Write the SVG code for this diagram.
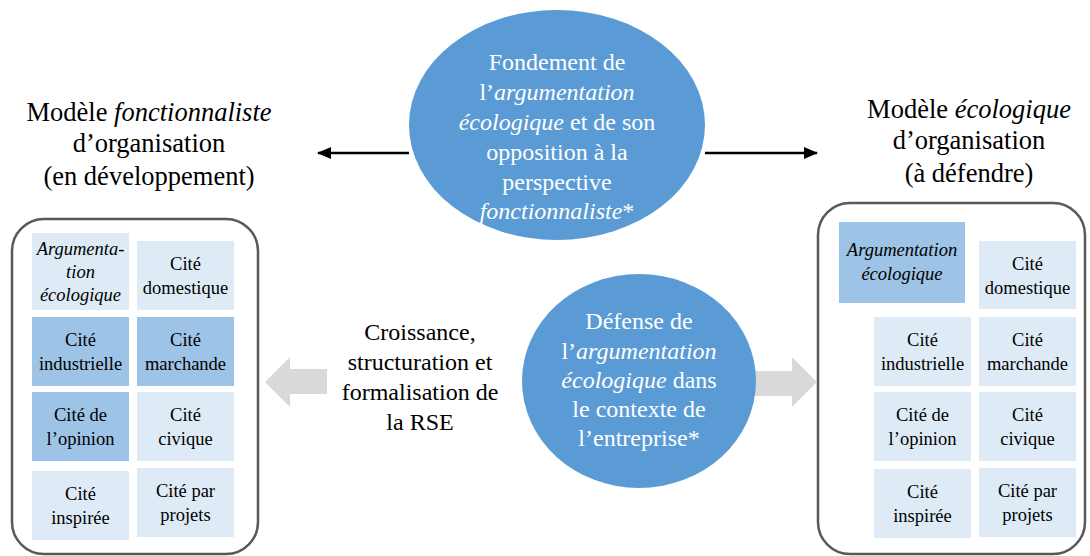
<svg xmlns="http://www.w3.org/2000/svg" width="1090" height="556" viewBox="0 0 1090 556" font-family="'Liberation Serif', 'DejaVu Serif', serif">
<defs>
<style>
text{font-family:'Liberation Serif','DejaVu Serif',serif;text-anchor:middle}
.h{font-size:26.5px;fill:#000}
.m{font-size:24px;fill:#000}
.e{font-size:24px;fill:#fff}
.c{font-size:18.5px;fill:#000}
.i{font-style:italic}
.lt{fill:#DEEBF7}
.dk{fill:#9DC3E6}
.box{fill:none;stroke:#595959;stroke-width:2.5}
.ell{fill:#5B9BD5}
.ga{fill:#D9D9D9}
</style>
<marker id="ah" markerWidth="14" markerHeight="12" refX="13" refY="6" orient="auto" markerUnits="userSpaceOnUse" viewBox="0 0 14 12">
<path d="M0,0 L14,6 L0,12 Z" fill="#000"/>
</marker>
</defs>
<rect width="1090" height="556" fill="#fff"/>

<g id="connectors">
<line x1="409" y1="153" x2="318" y2="153" stroke="#000" stroke-width="2.5" marker-end="url(#ah)"/>
<line x1="705" y1="153" x2="817" y2="153" stroke="#000" stroke-width="2.5" marker-end="url(#ah)"/>
<polygon class="ga" points="327,369 290,369 290,357 265,382 290,407 290,394 327,394"/>
<polygon class="ga" points="740,371 792,371 792,357 817,382 792,407 792,396 740,396"/>
</g>

<g id="header-left">
<text class="h" x="149" y="121">Modèle <tspan class="i">fonctionnaliste</tspan></text>
<text class="h" x="149" y="152">d’organisation</text>
<text class="h" x="149" y="185">(en développement)</text>
</g>
<g id="header-right">
<text class="h" x="969" y="118">Modèle <tspan class="i">écologique</tspan></text>
<text class="h" x="969" y="149">d’organisation</text>
<text class="h" x="969" y="182">(à défendre)</text>
</g>

<g id="ellipse-top">
<ellipse class="ell" cx="557" cy="125" rx="148" ry="115"/>
<text class="e" x="557" y="70">Fondement de</text>
<text class="e" x="557" y="100">l’<tspan class="i">argumentation</tspan></text>
<text class="e" x="557" y="130"><tspan class="i">écologique</tspan> et de son</text>
<text class="e" x="557" y="160">opposition à la</text>
<text class="e" x="557" y="190">perspective</text>
<text class="e" x="557" y="219"><tspan class="i">fonctionnaliste</tspan>*</text>
</g>

<g id="middle-text">
<text class="m" x="420" y="340">Croissance,</text>
<text class="m" x="420" y="370">structuration et</text>
<text class="m" x="420" y="400">formalisation de</text>
<text class="m" x="420" y="430">la RSE</text>
</g>

<g id="circle-bottom">
<ellipse class="ell" cx="639" cy="381" rx="117" ry="107"/>
<text class="e" x="639" y="329">Défense de</text>
<text class="e" x="639" y="359">l’<tspan class="i">argumentation</tspan></text>
<text class="e" x="639" y="388"><tspan class="i">écologique</tspan> dans</text>
<text class="e" x="639" y="417">le contexte de</text>
<text class="e" x="639" y="446">l’entreprise*</text>
</g>

<g id="box-left">
<rect class="box" x="12" y="219" width="246" height="335" rx="32"/>
<g id="l-arg"><rect class="lt" x="32" y="233" width="97" height="77"/>
<text class="c i" x="80.5" y="255">Argumenta-</text><text class="c i" x="80.5" y="278">tion</text><text class="c i" x="80.5" y="301">écologique</text></g>
<g id="l-dom"><rect class="lt" x="137" y="241" width="97" height="69"/>
<text class="c" x="185.5" y="270">Cité</text><text class="c" x="185.5" y="294">domestique</text></g>
<g id="l-ind"><rect class="dk" x="32" y="317" width="97" height="69"/>
<text class="c" x="80.5" y="346">Cité</text><text class="c" x="80.5" y="370">industrielle</text></g>
<g id="l-mar"><rect class="dk" x="137" y="317" width="97" height="69"/>
<text class="c" x="185.5" y="346">Cité</text><text class="c" x="185.5" y="370">marchande</text></g>
<g id="l-opi"><rect class="dk" x="32" y="392" width="97" height="69"/>
<text class="c" x="80.5" y="421">Cité de</text><text class="c" x="80.5" y="445">l’opinion</text></g>
<g id="l-civ"><rect class="lt" x="137" y="392" width="97" height="69"/>
<text class="c" x="185.5" y="421">Cité</text><text class="c" x="185.5" y="445">civique</text></g>
<g id="l-ins"><rect class="lt" x="32" y="471" width="97" height="69"/>
<text class="c" x="80.5" y="500">Cité</text><text class="c" x="80.5" y="524">inspirée</text></g>
<g id="l-pro"><rect class="lt" x="137" y="468" width="97" height="69"/>
<text class="c" x="185.5" y="497">Cité par</text><text class="c" x="185.5" y="521">projets</text></g>
</g>

<g id="box-right">
<rect class="box" x="818" y="203" width="267" height="351" rx="32"/>
<g id="r-arg"><rect class="dk" x="839" y="222" width="126" height="81"/>
<text class="c i" x="902" y="256">Argumentation</text><text class="c i" x="902" y="280">écologique</text></g>
<g id="r-dom"><rect class="lt" x="979" y="241" width="97" height="68"/>
<text class="c" x="1027.5" y="270">Cité</text><text class="c" x="1027.5" y="294">domestique</text></g>
<g id="r-ind"><rect class="lt" x="874" y="317" width="97" height="69"/>
<text class="c" x="922.5" y="346">Cité</text><text class="c" x="922.5" y="370">industrielle</text></g>
<g id="r-mar"><rect class="lt" x="979" y="317" width="97" height="69"/>
<text class="c" x="1027.5" y="346">Cité</text><text class="c" x="1027.5" y="370">marchande</text></g>
<g id="r-opi"><rect class="lt" x="874" y="392" width="97" height="69"/>
<text class="c" x="922.5" y="421">Cité de</text><text class="c" x="922.5" y="445">l’opinion</text></g>
<g id="r-civ"><rect class="lt" x="979" y="392" width="97" height="69"/>
<text class="c" x="1027.5" y="421">Cité</text><text class="c" x="1027.5" y="445">civique</text></g>
<g id="r-ins"><rect class="lt" x="874" y="469" width="97" height="69"/>
<text class="c" x="922.5" y="498">Cité</text><text class="c" x="922.5" y="522">inspirée</text></g>
<g id="r-pro"><rect class="lt" x="979" y="468" width="97" height="69"/>
<text class="c" x="1027.5" y="497">Cité par</text><text class="c" x="1027.5" y="521">projets</text></g>
</g>
</svg>
